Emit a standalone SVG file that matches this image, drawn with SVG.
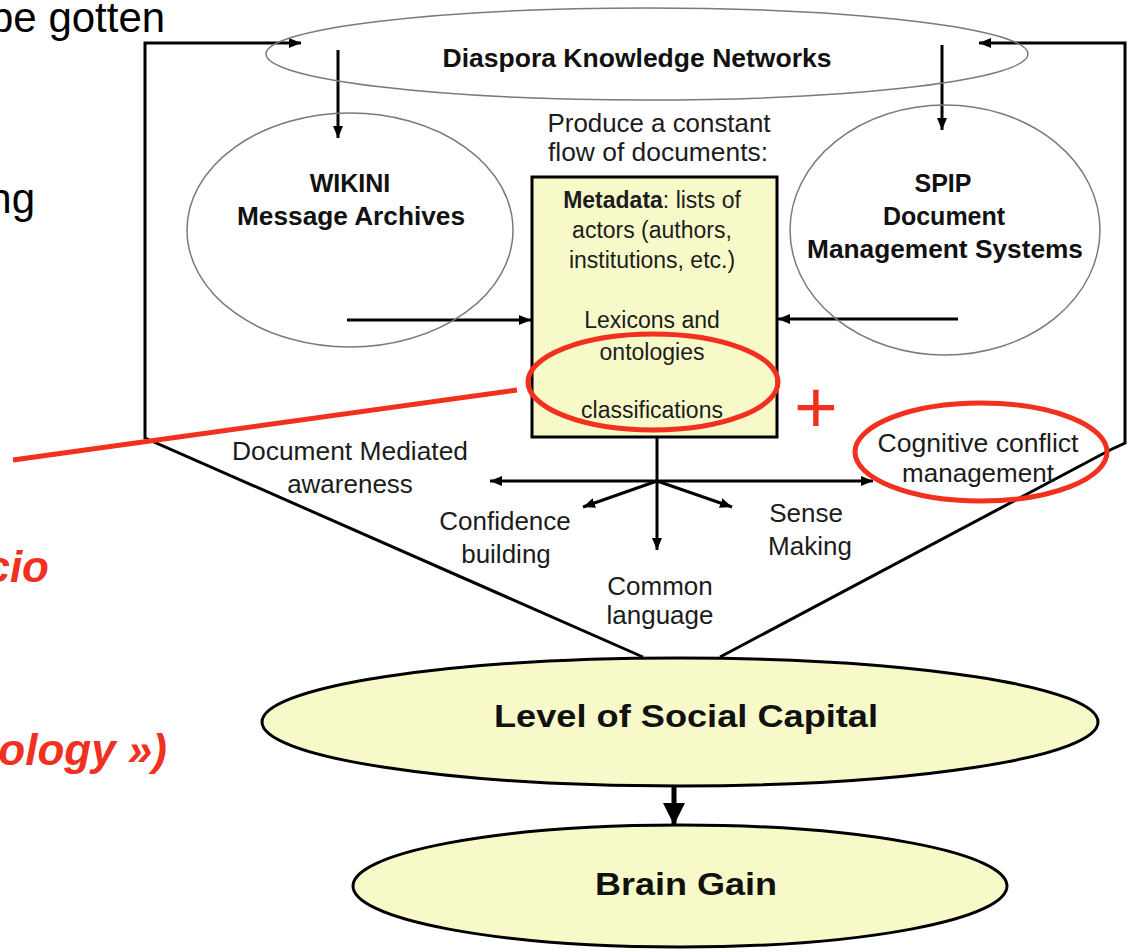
<svg xmlns="http://www.w3.org/2000/svg" width="1129" height="952" viewBox="0 0 1129 952">
<style>
.t{font-family:"Liberation Sans",Arial,Helvetica,sans-serif;fill:#1c1c1c;text-anchor:middle}
.b{font-weight:bold;fill:#111}
.thin{fill:none;stroke:#7a7a7a;stroke-width:1.5}
.ln{fill:none;stroke:#000;stroke-width:3}
.red{fill:none;stroke:#f2301f;stroke-width:5}
.yel{fill:#f7f9c9;stroke:#000;stroke-width:3}
.slide{font-family:"Liberation Sans",Arial,Helvetica,sans-serif;font-size:42px;fill:#000}
.rs{font-family:"Liberation Sans",Arial,Helvetica,sans-serif;font-size:44px;font-weight:bold;font-style:italic;fill:#f2301f;text-anchor:end}
</style>
<defs>
<marker id="ah" viewBox="0 0 12 10" refX="12" refY="5" markerWidth="12" markerHeight="10" markerUnits="userSpaceOnUse" orient="auto-start-reverse">
<path d="M0,0 L12,5 L0,10 z" fill="#000"/>
</marker>
<marker id="big" viewBox="0 0 22 22" refX="22" refY="11" markerWidth="22" markerHeight="22" markerUnits="userSpaceOnUse" orient="auto">
<path d="M0,0 L22,11 L0,22 z" fill="#000"/>
</marker>
</defs>
<rect width="1129" height="952" fill="#fff"/>

<!-- slide text behind diagram -->
<text class="slide" x="-10" y="32">be gotten</text>
<text class="slide" x="35" y="213" text-anchor="end">ng</text>
<text class="rs" x="49" y="582">cio</text>
<text class="rs" x="167" y="765">ology »)</text>

<g id="connectors">
<polyline class="ln" points="643,657 145,438 145,43 301,43" marker-end="url(#ah)"/>
<polyline class="ln" points="720,657 1110,450 1125,443 1125,43 979,43" marker-end="url(#ah)"/>
<line class="ln" x1="338" y1="50" x2="338" y2="138" marker-end="url(#ah)"/>
<line class="ln" x1="942" y1="45" x2="942" y2="130" marker-end="url(#ah)"/>
<line class="ln" x1="347" y1="320" x2="531" y2="320" marker-end="url(#ah)"/>
<line class="ln" x1="958" y1="319" x2="778" y2="319" marker-end="url(#ah)"/>
<line class="ln" x1="657" y1="437" x2="657" y2="550" marker-end="url(#ah)"/>
<line class="ln" x1="490" y1="481" x2="873" y2="481" marker-start="url(#ah)" marker-end="url(#ah)"/>
<line class="ln" x1="657" y1="481" x2="583" y2="507" marker-end="url(#ah)"/>
<line class="ln" x1="657" y1="481" x2="732" y2="507" marker-end="url(#ah)"/>
<line x1="674" y1="774" x2="674" y2="825" stroke="#000" stroke-width="5" marker-end="url(#big)"/>
</g>

<g id="diaspora">
<ellipse class="thin" cx="647" cy="54" rx="381" ry="46"/>
<text class="t b" x="637" y="67" font-size="25" textLength="389" lengthAdjust="spacingAndGlyphs">Diaspora Knowledge Networks</text>
</g>

<g id="wikini">
<ellipse class="thin" cx="350" cy="230" rx="163" ry="117"/>
<text class="t b" x="350" y="192" font-size="25">WIKINI</text>
<text class="t b" x="351" y="225" font-size="25" textLength="228" lengthAdjust="spacingAndGlyphs">Message Archives</text>
</g>

<g id="spip">
<ellipse class="thin" cx="945" cy="230" rx="155" ry="125"/>
<text class="t b" x="943" y="192" font-size="25">SPIP</text>
<text class="t b" x="944" y="225" font-size="25">Document</text>
<text class="t b" x="945" y="258" font-size="25" textLength="276" lengthAdjust="spacingAndGlyphs">Management Systems</text>
</g>

<g id="produce-label">
<text class="t" x="659" y="132" font-size="25" textLength="223" lengthAdjust="spacingAndGlyphs">Produce a constant</text>
<text class="t" x="658" y="161" font-size="25" textLength="220" lengthAdjust="spacingAndGlyphs">flow of documents:</text>
</g>

<g id="documents-box">
<rect class="yel" x="532" y="177" width="245" height="260"/>
<text class="t" x="652" y="208" font-size="23"><tspan font-weight="bold">Metadata</tspan>: lists of</text>
<text class="t" x="652" y="238" font-size="23">actors (authors,</text>
<text class="t" x="652" y="268" font-size="23">institutions, etc.)</text>
<text class="t" x="652" y="328" font-size="23">Lexicons and</text>
<text class="t" x="652" y="360" font-size="23">ontologies</text>
<text class="t" x="652" y="418" font-size="23">classifications</text>
<ellipse class="red" cx="653" cy="382" rx="125" ry="48"/>
</g>

<g id="red-pointer">
<line class="red" x1="13" y1="460" x2="517" y2="390"/>
<text x="816" y="433" font-family="'Liberation Sans',Arial,sans-serif" font-size="75" fill="#f2301f" text-anchor="middle">+</text>
</g>

<g id="cognitive">
<text class="t" x="978" y="452" font-size="26" textLength="201" lengthAdjust="spacingAndGlyphs">Cognitive conflict</text>
<text class="t" x="978" y="482" font-size="26">management</text>
<ellipse class="red" cx="981" cy="452" rx="126" ry="49"/>
</g>

<g id="document-mediated">
<text class="t" x="350" y="460" font-size="26" textLength="236" lengthAdjust="spacingAndGlyphs">Document Mediated</text>
<text class="t" x="350" y="493" font-size="26">awareness</text>
</g>

<g id="confidence">
<text class="t" x="505" y="530" font-size="26">Confidence</text>
<text class="t" x="506" y="563" font-size="26">building</text>
</g>

<g id="common">
<text class="t" x="660" y="595" font-size="26">Common</text>
<text class="t" x="660" y="624" font-size="26">language</text>
</g>

<g id="sense">
<text class="t" x="806" y="522" font-size="26">Sense</text>
<text class="t" x="810" y="555" font-size="26">Making</text>
</g>

<g id="social-capital">
<ellipse class="yel" cx="680" cy="722" rx="418" ry="64"/>
<text class="t b" x="686" y="727" font-size="31" textLength="384" lengthAdjust="spacingAndGlyphs">Level of Social Capital</text>
</g>

<g id="brain-gain">
<ellipse class="yel" cx="680" cy="886" rx="327" ry="61"/>
<text class="t b" x="686" y="895" font-size="31" textLength="182" lengthAdjust="spacingAndGlyphs">Brain Gain</text>
</g>
</svg>
